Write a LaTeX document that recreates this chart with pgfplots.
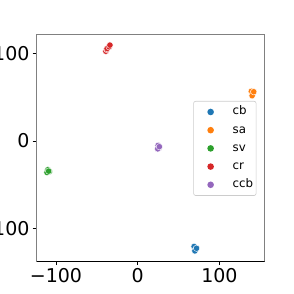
\documentclass[border=0pt]{standalone}
\usepackage{pgfplots}
\pgfplotsset{compat=1.18}
\usepackage{fontspec}
\setmainfont{DejaVu Sans}
\definecolor{tabblue}{HTML}{1F77B4}
\definecolor{taborange}{HTML}{FF7F0E}
\definecolor{tabgreen}{HTML}{2CA02C}
\definecolor{tabred}{HTML}{D62728}
\definecolor{tabpurple}{HTML}{9467BD}
\begin{document}
\begin{tikzpicture}[x=1pt,y=1pt]
\useasboundingbox (-36.7,-33) rectangle (257.3,261);
\begin{axis}[
  at={(0,0)}, anchor=south west,
  scale only axis, width=228pt, height=226pt,
  xmin=-123.6, xmax=155.4, ymin=-137.6, ymax=121.6,
  xtick={-100,0,100}, xticklabels={−100,0,100},
  ytick={-100,0,100}, yticklabels={−100,0,100},
  tick align=outside, major tick length=4pt,
  tick style={black, line width=0.8pt},
  xtick pos=bottom, ytick pos=left,
  axis line style={gray, line width=1pt},
  tick label style={font=\fontsize{19}{19}\selectfont, inner sep=2pt},
  xticklabel style={yshift=-1pt},
  yticklabel style={xshift=-1pt},
  legend style={at={(0.687,0.708)}, anchor=north west,
    font=\fontsize{11.8}{12}\selectfont, draw=black!20, line width=0.6pt,
    rounded corners=2pt, inner xsep=0pt, inner ysep=3.7pt,
    row sep=4.2pt, cells={anchor=west},
    nodes={text height=8pt, text depth=2pt, inner ysep=2pt, inner xsep=3pt}},
  legend image code/.code={\path[draw=none,fill=none] (0pt,0pt) -- (36pt,0pt); \fill[#1, draw=none] (17pt,0pt) circle (3.3pt);},
  legend cell align=left,
]
\addplot[only marks, mark=*, mark size=3.2pt, color=tabblue, mark options={fill=tabblue, draw=white, line width=0.4pt}]
  coordinates {(69,-121) (71,-124) (70,-126) (72,-123)};
\addlegendentry{cb}
\addplot[only marks, mark=*, mark size=3.2pt, color=taborange, mark options={fill=taborange, draw=white, line width=0.4pt}]
  coordinates {(139,57) (141,55) (140,52) (142,56.5)};
\addlegendentry{sa}
\addplot[only marks, mark=*, mark size=3.2pt, color=tabgreen, mark options={fill=tabgreen, draw=white, line width=0.4pt}]
  coordinates {(-110,-33) (-108,-35) (-111,-36) (-109,-34.5)};
\addlegendentry{sv}
\addplot[only marks, mark=*, mark size=3.2pt, color=tabred, mark options={fill=tabred, draw=white, line width=0.4pt}]
  coordinates {(-39,103) (-38,105) (-37.5,106) (-35,108) (-34,110)};
\addlegendentry{cr}
\addplot[only marks, mark=*, mark size=3.2pt, color=tabpurple, mark options={fill=tabpurple, draw=white, line width=0.4pt}]
  coordinates {(25,-5) (26,-8) (24.5,-9) (26.5,-6.5)};
\addlegendentry{ccb}
\draw[black, line width=1pt] (rel axis cs:0,0) -- (rel axis cs:1,0);
\end{axis}
\end{tikzpicture}
\end{document}
